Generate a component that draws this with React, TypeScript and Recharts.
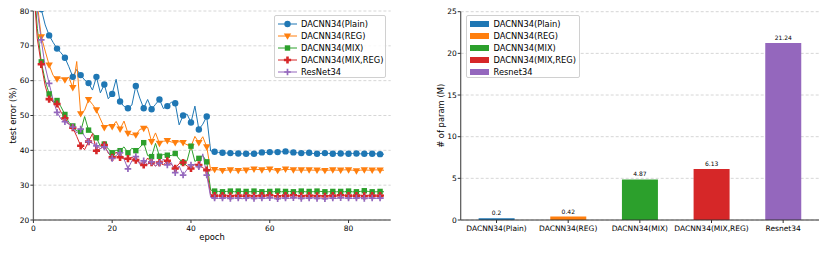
import React from "react";
import {
  LineChart,
  Line,
  BarChart,
  Bar,
  Cell,
  LabelList,
  XAxis,
  YAxis,
  CartesianGrid,
} from "recharts";

const FONT = "DejaVu Sans, Verdana, sans-serif";

// ---- left chart: test error per epoch ----
const epochs = Array.from({ length: 90 }, (_, i) => i);

const plain = [
  95, 86, 80.5, 76, 73.0, 71.0, 69.2, 68.0, 66.6, 64.0,
  61.1, 63.2, 61.6, 60.2, 59.3, 57.3, 61.1, 56.5, 58.9, 54.8,
  56.2, 60.4, 54.0, 52.6, 52.1, 53.0, 58.5, 55.0, 52.1, 54.6,
  51.8, 53.2, 54.6, 52.0, 52.7, 53.8, 53.5, 47.3, 50.0, 50.4,
  48.0, 52.7, 46.0, 47.5, 49.7, 39.8, 39.6, 39.4, 39.3, 39.2,
  39.2, 39.1, 39.1, 39.0, 39.0, 39.0, 39.0, 39.2, 39.4, 39.4,
  39.5, 39.5, 39.5, 39.6, 39.7, 39.5, 39.4, 39.3, 39.2, 39.3,
  39.3, 39.1, 39.0, 39.1, 39.2, 39.1, 39.0, 39.1, 39.1, 39.0,
  39.0, 39.1, 39.1, 39.0, 39.0, 39.1, 39.0, 39.0, 38.9, 38.9,
];

const reg = [
  92, 82, 72.6, 68.5, 64.5, 61.5, 60.5, 60.8, 60.2, 61.0,
  58.0, 65.5, 50.5, 51.5, 54.6, 53.2, 51.6, 49.0, 46.5, 47.2,
  46.8, 48.3, 46.1, 48.4, 44.9, 44.5, 44.4, 46.0, 46.3, 46.6,
  42.5, 45.0, 42.0, 42.6, 42.8, 42.4, 42.2, 42.5, 42.2, 41.6,
  41.1, 44.0, 42.2, 43.9, 41.0, 34.3, 34.5, 34.4, 34.2, 34.3,
  34.4, 34.3, 34.2, 34.3, 34.3, 34.5, 34.6, 34.5, 34.4, 34.5,
  34.6, 34.4, 34.2, 34.4, 34.6, 34.5, 34.4, 34.3, 34.4, 34.3,
  34.4, 34.3, 34.3, 34.4, 34.2, 34.3, 34.4, 34.3, 34.3, 34.4,
  34.4, 34.3, 34.1, 34.3, 34.4, 34.3, 34.3, 34.4, 34.3, 34.3,
];

const mix = [
  90, 75, 65.4, 60.0, 56.2, 53.8, 54.3, 52.5, 50.3, 48.0,
  47.0, 45.6, 45.4, 49.7, 45.8, 45.0, 43.6, 41.2, 41.8, 40.4,
  39.3, 40.0, 39.9, 41.0, 39.3, 40.6, 39.9, 40.8, 42.2, 38.5,
  38.2, 42.0, 38.3, 38.8, 38.6, 38.5, 39.1, 37.5, 36.5, 37.0,
  41.2, 36.8, 37.7, 38.5, 36.7, 28.6, 28.3, 28.2, 28.1, 28.2,
  28.3, 28.1, 28.3, 28.2, 28.2, 28.1, 28.3, 28.2, 28.1, 28.2,
  28.2, 28.1, 28.3, 28.1, 28.2, 28.2, 28.1, 28.1, 28.3, 28.1,
  28.2, 28.1, 28.3, 28.2, 28.1, 28.1, 28.2, 28.1, 28.2, 28.1,
  28.3, 28.1, 28.1, 28.2, 28.4, 28.2, 28.1, 28.1, 28.2, 28.1,
];

const mixReg = [
  88, 72, 64.7, 58.5, 54.7, 54.0, 53.3, 51.0, 49.2, 47.5,
  46.5, 44.0, 41.3, 40.2, 42.5, 44.8, 39.9, 40.5, 41.5, 39.2,
  38.0, 39.5, 38.0, 37.6, 37.6, 38.0, 37.2, 36.5, 35.8, 37.8,
  36.5, 35.5, 36.5, 35.8, 37.0, 36.0, 34.8, 36.2, 36.5, 35.5,
  34.8, 36.0, 35.8, 35.0, 34.3, 27.2, 27.0, 26.9, 27.0, 27.1,
  26.9, 27.0, 27.0, 26.8, 27.0, 27.1, 26.9, 27.0, 27.0, 26.9,
  27.1, 27.0, 26.8, 27.0, 27.0, 26.9, 27.1, 27.0, 26.9, 27.0,
  27.0, 27.1, 26.9, 27.0, 26.8, 27.0, 27.0, 26.9, 27.1, 27.0,
  27.0, 26.9, 27.0, 27.1, 26.9, 27.0, 27.0, 26.9, 27.0, 27.0,
];

const resnet = [
  92, 80, 71.7, 64.0, 59.2, 54.5, 50.9, 49.0, 48.2, 47.5,
  46.7, 45.0, 46.1, 44.0, 42.5, 42.0, 41.3, 40.5, 41.0, 39.5,
  37.7, 38.5, 39.3, 37.5, 34.7, 37.0, 38.2, 36.0, 37.0, 36.0,
  36.7, 35.5, 36.3, 37.5, 35.8, 36.5, 33.6, 35.5, 32.9, 34.5,
  35.8, 36.0, 35.3, 39.0, 32.9, 26.5, 26.3, 26.2, 26.3, 26.4,
  26.2, 26.3, 26.3, 26.1, 26.3, 26.4, 26.2, 26.3, 26.3, 26.2,
  26.4, 26.3, 26.1, 26.3, 26.3, 26.2, 26.4, 26.3, 26.2, 26.3,
  26.3, 26.4, 26.2, 26.3, 26.1, 26.3, 26.3, 26.2, 26.4, 26.3,
  26.3, 26.2, 26.3, 26.4, 26.2, 26.3, 26.3, 26.2, 26.3, 26.3,
];

const lineSeries = [
  { key: "plain", name: "DACNN34(Plain)", color: "#1f77b4", marker: "circle", values: plain },
  { key: "reg", name: "DACNN34(REG)", color: "#ff7f0e", marker: "tri", values: reg },
  { key: "mix", name: "DACNN34(MIX)", color: "#2ca02c", marker: "square", values: mix },
  { key: "mixReg", name: "DACNN34(MIX,REG)", color: "#d62728", marker: "plus", values: mixReg },
  { key: "resnet", name: "ResNet34", color: "#9467bd", marker: "thinPlus", values: resnet },
];

const errorTicks = [20, 30, 40, 50, 60, 70, 80];
const epochTicks = [0, 20, 40, 60, 80];

// ---- right chart: parameter count ----
const models = ["DACNN34(Plain)", "DACNN34(REG)", "DACNN34(MIX)", "DACNN34(MIX,REG)", "Resnet34"];
const params = [0.2, 0.42, 4.87, 6.13, 21.24];
const barColors = ["#1f77b4", "#ff7f0e", "#2ca02c", "#d62728", "#9467bd"];
const paramTicks = [0, 5, 10, 15, 20, 25];

const lineRows = epochs.map((epoch, i) => {
  const row: Record<string, number> = { epoch };
  lineSeries.forEach((s) => (row[s.key] = s.values[i]));
  return row;
});

const barRows = models.map((name, i) => ({ name, value: params[i] }));

function MarkerShape({ kind, cx, cy, color }: { kind: string; cx: number; cy: number; color: string }) {
  if (kind === "circle") return <circle cx={cx} cy={cy} r={3.2} fill={color} />;
  if (kind === "tri")
    return <path d={`M${cx - 3.7},${cy - 2.6}L${cx + 3.7},${cy - 2.6}L${cx},${cy + 3.8}Z`} fill={color} />;
  if (kind === "square") return <rect x={cx - 2.7} y={cy - 2.7} width={5.4} height={5.4} fill={color} />;
  const h = kind === "plus" ? 3.6 : 3.3;
  const a = kind === "plus" ? 1.3 : 0.85;
  const d =
    `M${cx - a},${cy - h}H${cx + a}V${cy - a}H${cx + h}V${cy + a}H${cx + a}V${cy + h}` +
    `H${cx - a}V${cy + a}H${cx - h}V${cy - a}H${cx - a}Z`;
  return <path d={d} fill={color} />;
}

const makeDot = (kind: string, color: string) => (props: any) => {
  const { cx, cy, index } = props;
  if (index % 2 !== 0 || cx == null || cy == null) return <g key={`d${index}`} />;
  return <MarkerShape key={`d${index}`} kind={kind} cx={cx} cy={cy} color={color} />;
};

const tickStyle = { fontSize: 7.5, fill: "#000", fontFamily: FONT };
const axisLabelStyle = { fontSize: 8.4, fill: "#000", fontFamily: FONT, textAnchor: "middle" as const };

function LineLegend() {
  return (
    <div
      style={{
        position: "absolute",
        left: 274,
        top: 15,
        width: 112,
        height: 63,
        border: "1px solid #d0d0d0",
        borderRadius: 2,
        background: "rgba(255,255,255,0.85)",
        boxSizing: "border-box",
        fontFamily: FONT,
        fontSize: 8.3,
        paddingTop: 1.5,
      }}
    >
      {lineSeries.map((s) => (
        <div key={s.key} style={{ display: "flex", alignItems: "center", height: 12 }}>
          <svg width={26} height={12} style={{ flex: "none" }}>
            <line x1={3} x2={22} y1={6} y2={6} stroke={s.color} strokeWidth={1} />
            <MarkerShape kind={s.marker} cx={12.5} cy={6} color={s.color} />
          </svg>
          <span style={{ whiteSpace: "nowrap", lineHeight: "12px" }}>{s.name}</span>
        </div>
      ))}
    </div>
  );
}

function BarLegend() {
  return (
    <div
      style={{
        position: "absolute",
        left: 465.5,
        top: 15,
        width: 114,
        height: 63,
        border: "1px solid #d0d0d0",
        borderRadius: 2,
        background: "#fff",
        boxSizing: "border-box",
        fontFamily: FONT,
        fontSize: 8.3,
        paddingTop: 1.5,
      }}
    >
      {models.map((m, i) => (
        <div key={m} style={{ display: "flex", alignItems: "center", height: 12 }}>
          <div style={{ width: 19, height: 6, background: barColors[i], marginLeft: 3, marginRight: 5, flex: "none" }} />
          <span style={{ whiteSpace: "nowrap", lineHeight: "12px" }}>{m}</span>
        </div>
      ))}
    </div>
  );
}

export default function App() {
  return (
    <div style={{ position: "absolute", left: 0, top: 0, width: 830, height: 253, background: "#fff", overflow: "hidden" }}>
      <div style={{ position: "absolute", left: 0, top: 0 }}>
        <LineChart width={400} height={253} data={lineRows} margin={{ top: 11, right: 9.3, bottom: 0, left: 0 }}>
          <CartesianGrid vertical={false} stroke="#d6d6d6" strokeDasharray="3 2" />
          <XAxis
            dataKey="epoch"
            type="number"
            domain={[0, 90.7]}
            ticks={epochTicks}
            allowDataOverflow
            height={33}
            tickSize={3}
            tickMargin={2.4}
            tick={tickStyle}
            axisLine={{ stroke: "#333" }}
            tickLine={{ stroke: "#333" }}
            label={{ value: "epoch", position: "insideBottom", offset: 13, style: axisLabelStyle }}
          />
          <XAxis xAxisId="top" orientation="top" dataKey="epoch" type="number" domain={[0, 90.7]} height={0} tick={false} tickLine={false} axisLine={{ stroke: "#333" }} />
          <YAxis
            type="number"
            domain={[20, 80]}
            ticks={errorTicks}
            allowDataOverflow
            width={33.4}
            tickSize={3}
            tickMargin={1}
            tick={tickStyle}
            axisLine={{ stroke: "#666", strokeWidth: 1.3 }}
            tickLine={{ stroke: "#333" }}
            label={{ value: "test error (%)", angle: -90, position: "insideLeft", offset: 13.3, style: axisLabelStyle }}
          />
          <YAxis yAxisId="right" orientation="right" domain={[20, 80]} width={0} tick={false} tickLine={false} axisLine={{ stroke: "#666", strokeWidth: 1.3 }} />
          {lineSeries.map((s) => (
            <Line
              key={s.key}
              dataKey={s.key}
              name={s.name}
              type="linear"
              stroke={s.color}
              strokeWidth={1}
              dot={makeDot(s.marker, s.color)}
              activeDot={false}
              isAnimationActive={false}
            />
          ))}
        </LineChart>
      </div>
      <LineLegend />

      <div style={{ position: "absolute", left: 420, top: 0 }}>
        <BarChart width={410} height={253} data={barRows} margin={{ top: 11.7, right: 11, bottom: 0, left: 0 }} barCategoryGap="25%">
          <CartesianGrid vertical={false} stroke="#d6d6d6" strokeDasharray="3 2" />
          <XAxis
            dataKey="name"
            height={33}
            interval={0}
            tickSize={3}
            tickMargin={2.8}
            tick={tickStyle}
            axisLine={{ stroke: "#333" }}
            tickLine={{ stroke: "#333" }}
          />
          <XAxis xAxisId="top" orientation="top" dataKey="name" height={0} tick={false} tickLine={false} axisLine={{ stroke: "#333" }} />
          <YAxis
            type="number"
            domain={[0, 25]}
            ticks={paramTicks}
            width={40.7}
            tickSize={3}
            tickMargin={1}
            tick={tickStyle}
            axisLine={{ stroke: "#555", strokeWidth: 1.2 }}
            tickLine={{ stroke: "#333" }}
            label={{ value: "# of param (M)", angle: -90, position: "insideLeft", offset: 20.8, style: axisLabelStyle }}
          />
          <YAxis yAxisId="right" orientation="right" domain={[0, 25]} width={0} tick={false} tickLine={false} axisLine={{ stroke: "#666", strokeWidth: 1.2 }} />
          <Bar dataKey="value" isAnimationActive={false}>
            {barRows.map((r, i) => (
              <Cell key={r.name} fill={barColors[i]} />
            ))}
            <LabelList dataKey="value" position="top" offset={3} style={{ fontSize: 6, fill: "#000", fontFamily: FONT }} />
          </Bar>
        </BarChart>
      </div>
      <BarLegend />
    </div>
  );
}
